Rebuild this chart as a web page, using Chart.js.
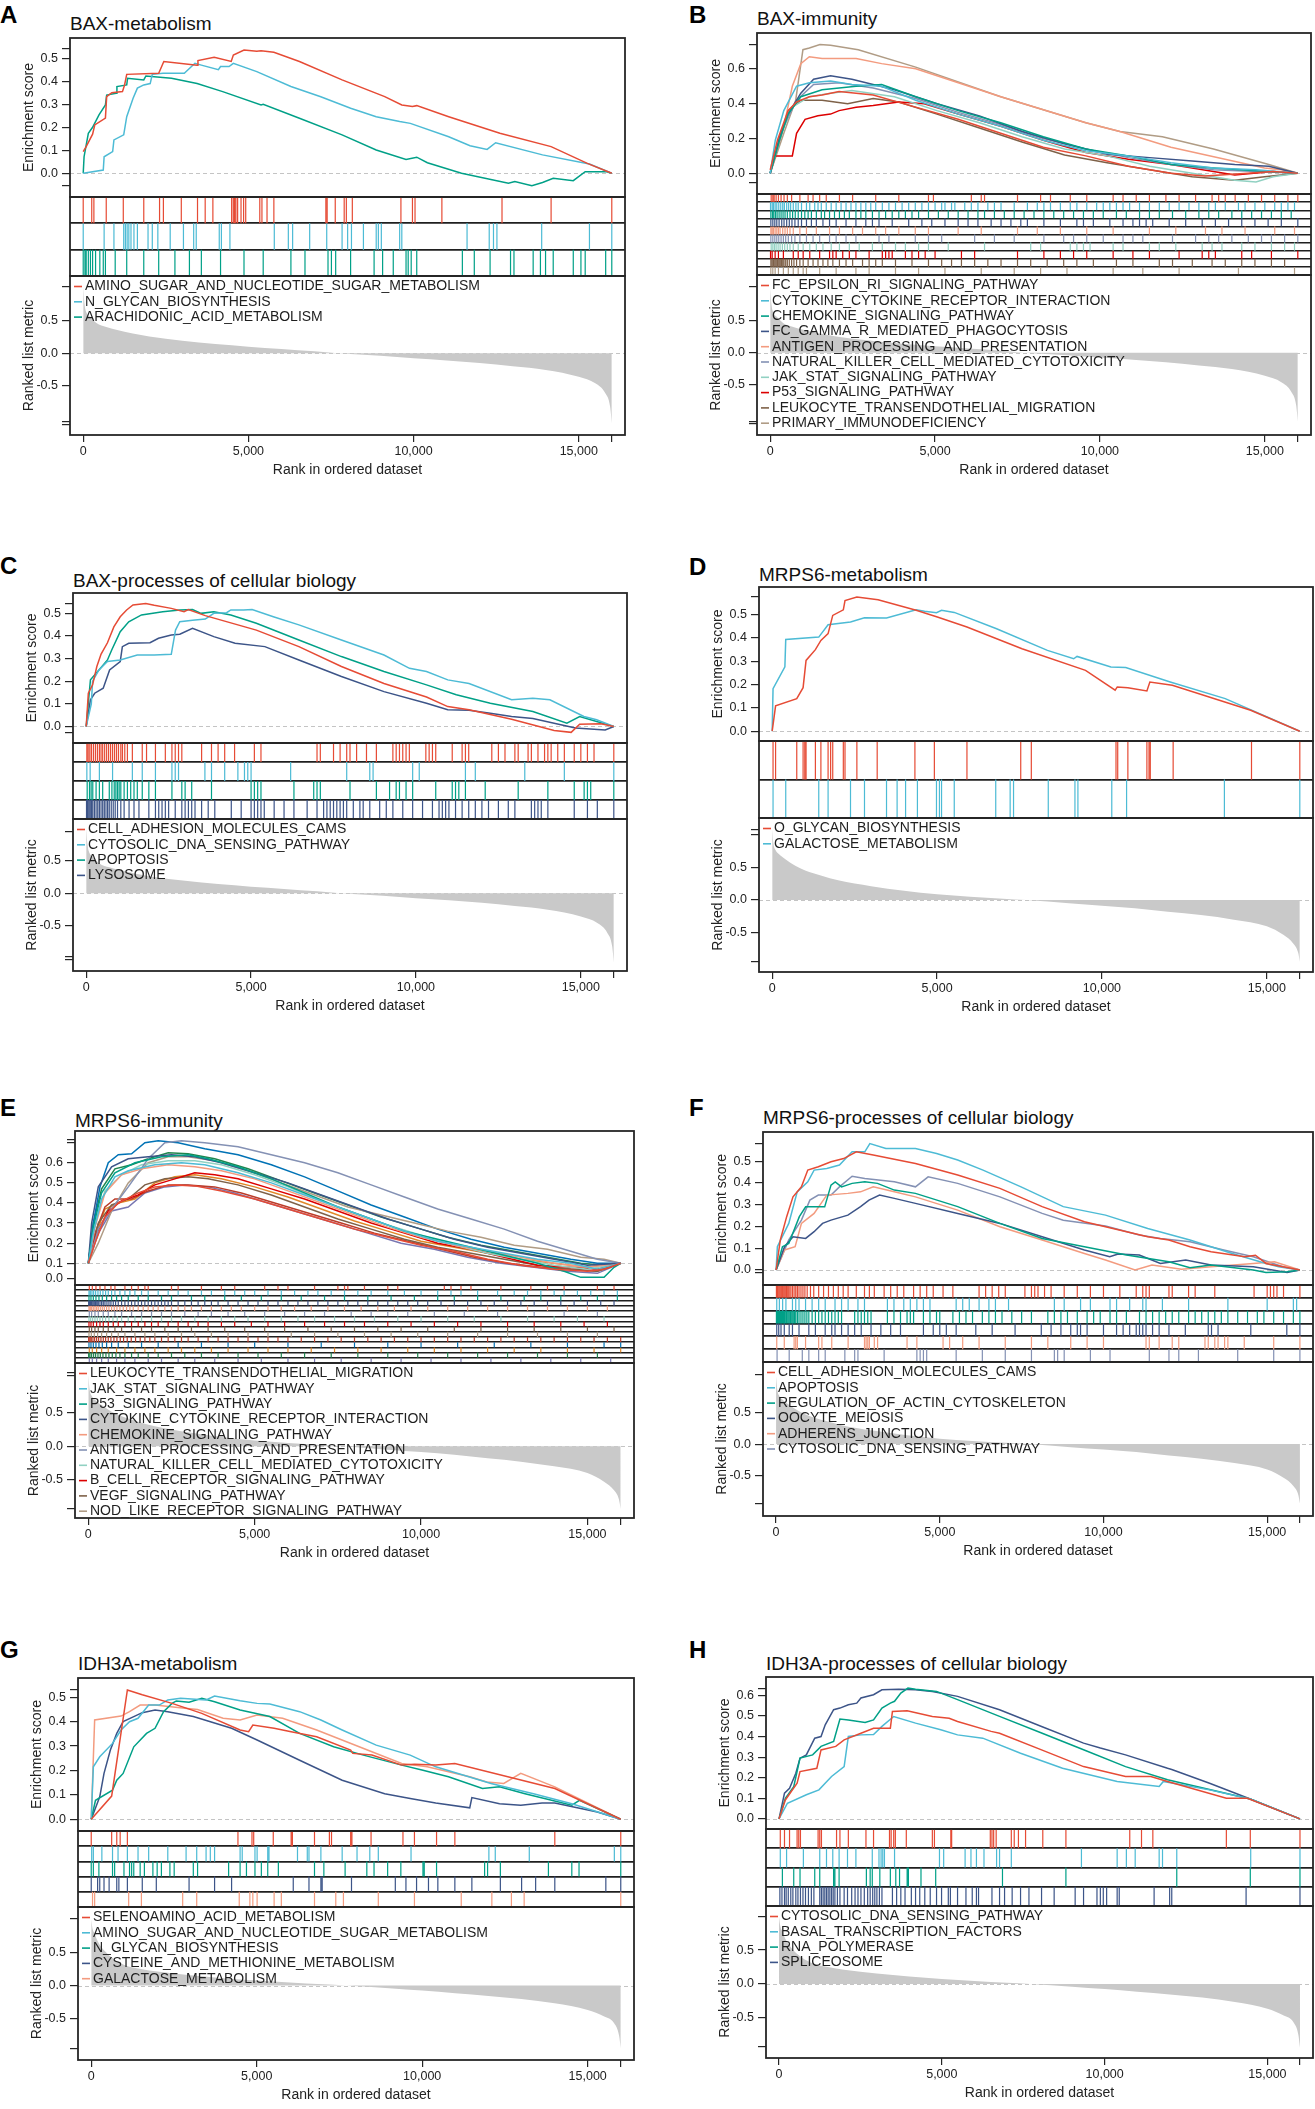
<!DOCTYPE html>
<html><head><meta charset="utf-8">
<script src="https://cdn.jsdelivr.net/npm/chart.js@4.4.1/dist/chart.umd.min.js"></script>
<style>
html,body{margin:0;padding:0;background:#fff;}
body{width:1315px;height:2109px;position:relative;overflow:hidden;font-family:"Liberation Sans",Arial,Helvetica,sans-serif;}
.letter{position:absolute;font-weight:bold;font-size:24px;line-height:1;color:#000;}
.ptitle{position:absolute;font-size:19px;line-height:1;color:#111;white-space:nowrap;}
canvas{position:absolute;}
</style></head><body>
<script>
// ---------------- shared axis values ----------------
const X_TICKS = [0, 5000, 10000, 15000, 16000];
const X_LABELS = ['0', '5,000', '10,000', '15,000', ''];
const RANKS = [0,40,100,200,400,700,1000,1500,2000,3000,4000,5000,6000,7000,7700,9000,10000,11000,12000,13000,14000,15000,15500,15800,15950,16000];
const BAX_METRIC   = [1.0,0.75,0.62,0.56,0.46,0.40,0.36,0.30,0.255,0.19,0.14,0.10,0.066,0.03,0.0,-0.04,-0.077,-0.11,-0.15,-0.2,-0.255,-0.36,-0.46,-0.61,-0.82,-1.07];
const MRPS6_METRIC = [1.07,0.85,0.76,0.70,0.62,0.52,0.45,0.37,0.30,0.21,0.14,0.086,0.05,0.02,0.0,-0.05,-0.086,-0.126,-0.18,-0.23,-0.30,-0.40,-0.53,-0.66,-0.80,-0.94];
const IDH3A_METRIC = [0.99,0.85,0.78,0.66,0.52,0.39,0.31,0.25,0.21,0.155,0.11,0.075,0.045,0.018,0.0,-0.04,-0.075,-0.115,-0.155,-0.2,-0.265,-0.365,-0.465,-0.565,-0.75,-0.94];

// ---------------- A: BAX-metabolism ----------------
const A_NAMES = ['AMINO_SUGAR_AND_NUCLEOTIDE_SUGAR_METABOLISM','N_GLYCAN_BIOSYNTHESIS','ARACHIDONIC_ACID_METABOLISM'];
const A_ES_1 = [[0,0.094],[90,0.116],[284,0.17],[349,0.21],[672,0.24],[710,0.333],[865,0.35],[1188,0.355],[1252,0.384],[1317,0.43],[2285,0.435],[2440,0.486],[3447,0.47],[3473,0.49],[3964,0.504],[4480,0.486],[4545,0.514],[4868,0.536],[5254,0.53],[5383,0.533],[5771,0.526],[6545,0.486],[7836,0.406],[9127,0.333],[9644,0.297],[9966,0.29],[10096,0.294],[11064,0.246],[12613,0.174],[14163,0.116],[15260,0.043],[16000,0]];
const A_ES_2 = [[0,0],[607,0.014],[633,0.072],[891,0.094],[930,0.145],[1226,0.167],[1317,0.246],[1510,0.326],[1640,0.37],[1833,0.384],[2027,0.39],[2091,0.43],[2414,0.435],[3060,0.435],[3382,0.478],[3576,0.47],[4092,0.45],[4157,0.464],[4415,0.464],[4544,0.478],[5254,0.442],[6287,0.377],[7191,0.333],[8095,0.283],[8869,0.246],[9579,0.225],[9902,0.217],[11064,0.159],[11709,0.12],[12226,0.104],[12484,0.133],[13904,0.08],[15324,0.04],[16000,0]];
const A_ES_3 = [[0,0],[26,0.072],[155,0.174],[284,0.2],[478,0.254],[672,0.297],[710,0.34],[994,0.348],[1020,0.377],[1317,0.384],[1343,0.413],[1833,0.406],[1898,0.423],[2672,0.413],[3447,0.39],[4222,0.355],[5383,0.297],[5448,0.3],[6545,0.239],[7836,0.167],[8869,0.101],[9772,0.06],[10096,0.07],[10418,0.046],[11451,0],[12871,-0.043],[13065,-0.036],[13581,-0.054],[13904,-0.04],[14227,-0.022],[14834,-0.032],[15195,0.007],[15841,0.007],[16000,0]];
const A_HIT_1 = [0,258,323,697,1213,1833,2311,2427,2969,3460,3692,3925,4493,4544,4583,4622,4674,4777,4855,4919,5345,5410,5564,5771,7345,7384,7629,7900,7965,8146,9617,9966,10044,10857,12677,14163,16000];
const A_HIT_2 = [0,633,930,1226,1278,1330,1381,1446,1536,1640,1962,2091,2259,2633,3034,3344,3421,4118,4183,4441,5784,6209,6339,6855,7371,7836,8004,8120,8482,8869,8934,9024,9579,9644,11619,12290,12419,12523,13878,15324,16000];
const A_HIT_3 = [0,52,90,155,219,284,374,503,607,672,968,1317,1833,2285,2776,3215,3576,4157,4867,5448,6287,6713,7410,7513,7642,8094,8805,9063,9385,9772,9837,9928,10096,11477,11838,12316,12935,13039,13620,13840,13995,14227,14834,15066,15195,15815,16000];
const A_ES_TICKS = [-0.054,0,0.1,0.2,0.3,0.4,0.5,0.54];
const A_ES_LABELS = ['','0.0','0.1','0.2','0.3','0.4','0.5',''];
const A_RK_TICKS = [-1.087,-1.05,-0.5,0,0.5,1.015];

// ---------------- B: BAX-immunity ----------------
const B_NAMES = ['FC_EPSILON_RI_SIGNALING_PATHWAY','CYTOKINE_CYTOKINE_RECEPTOR_INTERACTION','CHEMOKINE_SIGNALING_PATHWAY','FC_GAMMA_R_MEDIATED_PHAGOCYTOSIS','ANTIGEN_PROCESSING_AND_PRESENTATION','NATURAL_KILLER_CELL_MEDIATED_CYTOTOXICITY','JAK_STAT_SIGNALING_PATHWAY','P53_SIGNALING_PATHWAY','LEUKOCYTE_TRANSENDOTHELIAL_MIGRATION','PRIMARY_IMMUNODEFICIENCY'];
const B_ES_1 = [[0,0.02],[219,0.19],[542,0.36],[800,0.41],[1187,0.44],[1574,0.45],[2090,0.47],[3122,0.45],[4412,0.38],[5702,0.31],[6992,0.23],[8282,0.15],[9572,0.1],[10862,0.04],[12152,0],[13184,-0.015],[14474,0],[15248,0.01],[16000,0]];
const B_ES_2 = [[0,0],[155,0.19],[413,0.36],[800,0.5],[1187,0.52],[1832,0.53],[2477,0.51],[3380,0.5],[4412,0.42],[5702,0.34],[6992,0.27],[8282,0.19],[9572,0.13],[10862,0.1],[12152,0.06],[13442,0.03],[14732,0.02],[16000,0]];
const B_ES_3 = [[0,0],[284,0.19],[542,0.34],[929,0.44],[1574,0.48],[2606,0.5],[3380,0.51],[4412,0.44],[5702,0.36],[6992,0.29],[8282,0.21],[9572,0.14],[10862,0.1],[12152,0.05],[13442,0.03],[14732,0.015],[16000,0]];
const B_ES_4 = [[0,0],[284,0.21],[542,0.34],[929,0.46],[1316,0.54],[1832,0.56],[2477,0.54],[3767,0.48],[5057,0.4],[6347,0.33],[7637,0.24],[8927,0.17],[10217,0.11],[11507,0.09],[12797,0.07],[14087,0.05],[15119,0.04],[16000,0]];
const B_ES_5 = [[0,0],[413,0.27],[671,0.5],[929,0.63],[1187,0.67],[1574,0.66],[2606,0.66],[3380,0.63],[4412,0.6],[6992,0.44],[9572,0.29],[10604,0.24],[12152,0.15],[14990,0.03],[15506,0.02],[16000,0]];
const B_ES_6 = [[0,0],[413,0.27],[800,0.42],[1316,0.51],[2090,0.52],[3122,0.49],[4412,0.43],[5702,0.35],[6992,0.28],[8282,0.2],[9572,0.14],[10862,0.09],[12152,0.05],[13442,0.02],[14732,0.01],[16000,0]];
const B_ES_7 = [[0,0],[348,0.23],[671,0.38],[1187,0.44],[1832,0.46],[2477,0.475],[3767,0.44],[5057,0.36],[6347,0.29],[7637,0.21],[8927,0.14],[10217,0.1],[11507,0.04],[12797,0],[14087,-0.04],[14732,-0.05],[15248,-0.02],[16000,0]];
const B_ES_8 = [[0,0],[155,0.1],[671,0.1],[800,0.23],[1058,0.31],[1445,0.33],[1832,0.34],[2090,0.36],[2606,0.38],[3122,0.39],[3896,0.41],[4670,0.4],[5702,0.34],[6992,0.27],[8282,0.19],[9572,0.12],[10862,0.08],[12152,0.05],[13442,0.01],[14087,-0.01],[15248,0.01],[16000,0]];
const B_ES_9 = [[0,0],[284,0.19],[542,0.36],[929,0.42],[1574,0.42],[2348,0.4],[3122,0.43],[3896,0.41],[5057,0.34],[6347,0.26],[7637,0.18],[8927,0.105],[10217,0.06],[11507,0.02],[12797,-0.02],[14087,-0.04],[14990,-0.02],[16000,0]];
const B_ES_10 = [[0,0],[413,0.23],[774,0.42],[993,0.71],[1187,0.72],[1509,0.74],[1832,0.735],[2670,0.71],[4412,0.61],[6992,0.44],[9572,0.29],[10604,0.24],[11894,0.21],[13442,0.14],[15119,0.05],[16000,0]];
const B_HIT_1 = [30,80,120,180,250,330,420,520,650,900,1150,1300,1500,1700,2100,2500,3200,3900,4800,4950,6100,6400,6500,7500,8200,8500,9100,9600,10400,10700,11100,11500,12000,12400,12900,13400,13600,13800,14100,14500,14900,15300,15700,16000];
const B_HIT_2 = [10,60,100,150,200,260,320,380,430,500,560,620,700,780,850,950,1100,1200,1350,1450,1550,1700,1850,2000,2150,2300,2450,2600,2750,2900,3050,3200,3400,3600,3800,4000,4200,4400,4600,4800,5000,5200,5300,5500,5600,5900,6100,6300,6600,6800,7000,7400,7800,8100,8300,8500,8800,9100,9300,9600,9900,10100,10300,10500,10700,10900,11200,11500,11800,12100,12400,12700,13000,13300,13500,13800,14200,14400,14700,15000,15300,15500,15700,15900];
const B_HIT_3 = [20,70,110,160,210,270,330,390,450,520,600,680,760,850,950,1050,1150,1250,1400,1550,1650,1800,1950,2100,2250,2400,2600,2750,2900,3100,3300,3500,3700,3900,4100,4300,4500,4800,5100,5400,5700,6000,6300,6500,6800,7100,7400,7700,8000,8300,8600,8900,9200,9500,9800,10100,10500,10800,11200,11500,11800,12200,12600,13000,13300,13600,14000,14300,14600,14900,15200,15500,15800];
const B_HIT_4 = [20,80,140,200,270,350,420,500,580,660,750,850,950,1100,1250,1400,1600,1800,2000,2300,2600,2900,3100,3300,3700,4200,4600,4900,5300,5700,6000,6300,6700,7000,7300,7600,7800,8300,8800,9300,9500,9800,10300,10700,11000,11200,11400,11600,12100,12600,13100,13500,13900,14300,14700,15100,15500,16000];
const B_HIT_5 = [20,60,100,150,200,250,300,380,450,520,600,700,900,1100,1400,1800,2100,2500,2800,3200,3500,3900,4400,4800,5700,6400,7500,8100,8800,9600,10400,11500,12300,13200,13700,14400,15300,15900];
const B_HIT_6 = [20,80,140,200,260,330,400,470,550,650,750,900,1100,1300,1500,1800,2000,2300,2600,3300,3600,4400,4800,5200,6200,6800,7400,8300,8900,9200,9600,10100,10700,11000,11300,12200,12900,13300,13600,14000,14500,14900,15200,15600,16000];
const B_HIT_7 = [30,80,130,180,240,300,370,440,520,600,700,850,1000,1200,1400,1600,1850,2100,2400,2700,3100,3400,3800,4100,4500,4800,5400,6500,7900,8200,9100,9300,9500,9700,10400,10700,11500,11800,12300,13100,13400,13700,14300,14700,15200,15600,15900];
const B_HIT_8 = [10,60,150,250,400,700,850,1000,1200,1500,1800,1900,2000,2200,2400,2600,3000,3400,3500,3600,3700,4100,4300,4500,4700,5000,5800,6200,7500,8300,8800,9200,9600,10400,11000,11500,12400,13100,13300,13500,14300,14600,15200,16000];
const B_HIT_9 = [20,60,100,140,180,220,260,300,340,380,420,470,520,580,650,720,800,900,1000,1150,1300,1450,1600,1750,1900,2100,2300,2500,2800,3000,3200,3400,3800,4300,4800,5200,5500,5800,6200,6600,7000,7500,7900,8400,8900,9300,9800,10500,11000,11800,12200,12800,13400,13800,14300,14700,15200,15600];
const B_HIT_10 = [20,80,150,250,400,550,700,850,1000,1100,1500,2000,2600,3000,3800,4500,5300,6400,7400,8200,9000,10400,11300,12400,14200,15900];
const B_ES_TICKS = [-0.052,0,0.2,0.4,0.6,0.741];
const B_ES_LABELS = ['','0.0','0.2','0.4','0.6',''];
const B_RK_TICKS = [-1.11,-1.08,-0.5,0,0.5,1.04];

// ---------------- C: BAX-processes of cellular biology ----------------
const C_NAMES = ['CELL_ADHESION_MOLECULES_CAMS','CYTOSOLIC_DNA_SENSING_PATHWAY','APOPTOSIS','LYSOSOME'];
const C_ES_1 = [[0,0],[65,0.147],[194,0.184],[323,0.265],[452,0.32],[645,0.37],[839,0.44],[1032,0.485],[1226,0.515],[1419,0.537],[1806,0.544],[2064,0.536],[2580,0.522],[2967,0.507],[3096,0.517],[3612,0.49],[5160,0.426],[6450,0.353],[7740,0.265],[9030,0.19],[9675,0.16],[10320,0.13],[10965,0.088],[11610,0.074],[12900,0.032],[14190,-0.018],[14706,-0.026],[14964,0.01],[15609,0.012],[16000,0]];
const C_ES_2 = [[0,0],[155,0.1],[194,0.2],[387,0.25],[645,0.287],[1032,0.294],[1548,0.316],[2064,0.316],[2580,0.319],[2709,0.426],[2838,0.463],[3225,0.47],[3612,0.475],[3870,0.5],[4257,0.503],[4386,0.515],[4773,0.515],[5031,0.517],[5676,0.485],[6450,0.449],[7740,0.382],[9030,0.316],[9804,0.257],[10320,0.243],[10965,0.206],[11610,0.19],[12900,0.118],[13545,0.125],[14061,0.118],[15093,0.044],[15480,0.03],[16000,0]];
const C_ES_3 = [[0,0],[129,0.206],[387,0.25],[645,0.294],[774,0.338],[1032,0.419],[1290,0.463],[1677,0.493],[2322,0.507],[2838,0.515],[3225,0.517],[3483,0.5],[3870,0.507],[4386,0.493],[5160,0.456],[6450,0.382],[7740,0.309],[9030,0.243],[10320,0.184],[11223,0.14],[12255,0.103],[13545,0.066],[14577,0.015],[14964,0.044],[16000,0]];
const C_ES_4 = [[0,0],[129,0.118],[258,0.147],[516,0.169],[710,0.25],[1032,0.287],[1097,0.353],[1290,0.368],[1935,0.37],[2193,0.39],[2580,0.404],[2838,0.408],[3225,0.434],[3870,0.397],[4515,0.368],[5418,0.353],[6450,0.294],[7740,0.221],[9030,0.154],[10320,0.103],[10965,0.074],[11610,0.072],[12255,0.059],[12900,0.044],[13545,0.035],[14835,-0.007],[15738,-0.015],[16000,0]];
const C_HIT_1 = [20,60,110,160,220,280,340,400,450,500,560,620,680,740,800,860,920,980,1050,1100,1170,1250,1400,1700,1830,2100,2400,2600,2700,2800,2900,3500,3800,4000,4200,4500,5100,5300,7000,7100,7500,7700,7900,8000,8200,8500,8800,9300,9400,9500,9600,9700,9800,10300,10400,10500,10600,11100,11400,11500,11600,12300,12500,12700,13000,13100,13400,13500,13700,13900,14000,14100,14300,14500,14800,15000,15200,15400,16000];
const C_HIT_2 = [20,120,400,800,1400,1700,2100,2600,2700,2800,3600,3800,4200,4600,4800,4900,5000,6200,7900,8600,8700,9900,10100,11500,11800,13300,14500,16000];
const C_HIT_3 = [30,100,150,200,300,400,500,700,780,850,900,950,1000,1050,1150,1250,1350,1450,1550,1700,1900,2100,2600,2900,3000,3200,3800,5000,5100,5200,5300,6300,6900,7000,7100,8000,8800,9200,9400,9500,9700,9900,10600,11100,11200,11300,11500,12100,13100,14000,14800,15100,15200,15300,16000];
const C_HIT_4 = [10,40,80,120,160,200,250,300,350,400,450,500,550,600,650,700,760,820,880,950,1050,1150,1300,1450,1600,1900,2100,2200,2300,2400,2500,2700,2900,3000,3100,3200,3300,3500,3700,3900,4400,4700,5000,5100,5200,5300,5400,5700,6000,6300,6700,7000,7200,7300,7400,7500,7600,7700,7800,7900,8100,8300,8400,8600,8900,9100,9300,9600,9900,10200,10500,10700,10800,10900,11000,11200,11400,11600,11800,12000,12200,12500,12800,13000,13500,13600,13700,13800,14000,14800,15200,15500,16000];
const C_ES_TICKS = [-0.025,0,0.1,0.2,0.3,0.4,0.5,0.543];
const C_ES_LABELS = ['','0.0','0.1','0.2','0.3','0.4','0.5',''];
const C_RK_TICKS = [-1.02,-0.98,-0.5,0,0.5,0.954];

// ---------------- D: MRPS6-metabolism ----------------
const D_NAMES = ['O_GLYCAN_BIOSYNTHESIS','GALACTOSE_METABOLISM'];
const D_ES_1 = [[0,0],[103,0.109],[745,0.14],[937,0.187],[1027,0.304],[1310,0.35],[1477,0.39],[1695,0.419],[1836,0.497],[2157,0.521],[2208,0.561],[2568,0.576],[3210,0.564],[4366,0.519],[5008,0.49],[5906,0.447],[7576,0.354],[9502,0.261],[10400,0.176],[10465,0.19],[10786,0.187],[11363,0.173],[11453,0.211],[12134,0.197],[14509,0.09],[16000,0]];
const D_ES_2 = [[0,0],[26,0.183],[385,0.276],[411,0.394],[1412,0.404],[1695,0.457],[2375,0.469],[2799,0.487],[3467,0.486],[4366,0.521],[4622,0.515],[4982,0.509],[5136,0.519],[5521,0.51],[6805,0.44],[8346,0.347],[9142,0.311],[9245,0.321],[10272,0.276],[10721,0.273],[12070,0.211],[13739,0.14],[16000,0]];
const D_HIT_1 = [26,103,745,937,988,1027,1310,1477,1695,1772,1836,2157,2208,2568,3184,4328,4918,5906,7537,7858,10426,10478,10786,11363,11427,11466,12159,14535,16000];
const D_HIT_2 = [26,411,1412,1695,2375,2799,3467,3788,4045,4404,4982,5072,5136,5521,6779,7216,7319,8372,9181,9271,10298,10747,13713,16000];
const D_ES_TICKS = [0,0.1,0.2,0.3,0.4,0.5,0.576];
const D_ES_LABELS = ['0.0','0.1','0.2','0.3','0.4','0.5',''];
const D_RK_TICKS = [-0.94,-0.5,0,0.5,0.99,1.07];

// ---------------- E: MRPS6-immunity ----------------
const E_NAMES = ['LEUKOCYTE_TRANSENDOTHELIAL_MIGRATION','JAK_STAT_SIGNALING_PATHWAY','P53_SIGNALING_PATHWAY','CYTOKINE_CYTOKINE_RECEPTOR_INTERACTION','CHEMOKINE_SIGNALING_PATHWAY','ANTIGEN_PROCESSING_AND_PRESENTATION','NATURAL_KILLER_CELL_MEDIATED_CYTOTOXICITY','B_CELL_RECEPTOR_SIGNALING_PATHWAY','VEGF_SIGNALING_PATHWAY','NOD_LIKE_RECEPTOR_SIGNALING_PATHWAY'];
const E_ES_1 = [[0,0.1],[200,0.2],[500,0.33],[900,0.4],[1500,0.45],[2000,0.48],[2600,0.49],[3200,0.485],[4000,0.46],[5000,0.42],[6000,0.37],[7000,0.32],[8000,0.27],[9000,0.23],[10000,0.19],[11000,0.16],[12000,0.12],[13000,0.09],[14000,0.07],[15000,0.06],[15500,0.07],[16000,0.1]];
const E_ES_2 = [[0,0.1],[150,0.25],[400,0.42],[800,0.53],[1200,0.56],[2000,0.59],[2800,0.6],[3500,0.59],[4500,0.55],[5500,0.5],[6500,0.44],[7500,0.38],[8500,0.32],[9500,0.26],[10500,0.21],[11500,0.18],[12500,0.15],[13500,0.12],[14500,0.1],[15300,0.07],[16000,0.1]];
const E_ES_3 = [[0,0.1],[150,0.28],[400,0.45],[800,0.55],[1400,0.6],[2200,0.63],[3000,0.64],[3600,0.62],[4500,0.58],[5500,0.52],[6500,0.45],[7500,0.38],[8500,0.32],[9500,0.26],[10500,0.22],[11500,0.18],[12500,0.14],[13500,0.1],[14300,0.06],[14800,0.03],[15500,0.03],[15800,0.08],[16000,0.1]];
const E_ES_4 = [[0,0.1],[100,0.3],[300,0.48],[700,0.58],[1200,0.62],[1800,0.63],[2500,0.64],[3200,0.63],[4000,0.6],[5000,0.55],[6000,0.5],[7000,0.44],[8000,0.38],[9000,0.32],[10000,0.27],[11000,0.22],[12000,0.18],[13000,0.15],[14000,0.12],[15000,0.09],[16000,0.1]];
const E_ES_5 = [[0,0.1],[200,0.28],[500,0.45],[1000,0.54],[1600,0.57],[2400,0.59],[3200,0.58],[4000,0.56],[5000,0.52],[6000,0.46],[7000,0.4],[8000,0.34],[9000,0.28],[10000,0.23],[11000,0.19],[12000,0.16],[13000,0.13],[14000,0.1],[15000,0.08],[16000,0.1]];
const E_ES_6 = [[0,0.1],[300,0.27],[700,0.37],[1200,0.48],[1800,0.62],[2300,0.7],[2800,0.71],[3500,0.7],[4500,0.68],[5500,0.64],[6500,0.6],[7500,0.55],[8500,0.49],[9500,0.43],[10500,0.37],[11500,0.32],[12500,0.27],[13500,0.21],[14500,0.16],[15300,0.12],[16000,0.1]];
const E_ES_7 = [[0,0.1],[200,0.3],[500,0.46],[1000,0.54],[1600,0.59],[2400,0.61],[3200,0.61],[4000,0.59],[5000,0.54],[6000,0.48],[7000,0.41],[8000,0.35],[9000,0.29],[10000,0.24],[11000,0.19],[12000,0.15],[13000,0.12],[14000,0.09],[15000,0.07],[16000,0.1]];
const E_ES_8 = [[0,0.1],[250,0.25],[600,0.36],[1000,0.41],[1500,0.44],[2000,0.49],[2600,0.52],[3200,0.55],[3800,0.54],[4500,0.52],[5500,0.47],[6500,0.42],[7500,0.36],[8500,0.3],[9500,0.25],[10500,0.2],[11500,0.17],[12500,0.13],[13500,0.09],[14500,0.08],[15300,0.07],[16000,0.1]];
const E_ES_9 = [[0,0.1],[300,0.3],[700,0.39],[1200,0.42],[1700,0.49],[2300,0.52],[3000,0.53],[3600,0.52],[4500,0.49],[5500,0.44],[6500,0.38],[7500,0.32],[8500,0.27],[9500,0.22],[10500,0.18],[11500,0.15],[12500,0.12],[13500,0.09],[14500,0.07],[15300,0.06],[16000,0.1]];
const E_ES_10 = [[0,0.1],[300,0.2],[700,0.36],[1200,0.5],[1800,0.6],[2400,0.63],[3000,0.63],[3800,0.61],[4800,0.56],[5800,0.5],[6800,0.44],[7800,0.38],[8800,0.34],[9800,0.3],[10800,0.26],[11800,0.23],[12800,0.19],[13800,0.17],[14800,0.13],[15500,0.12],[16000,0.1]];
const E_ES_11 = [[0,0.1],[200,0.25],[500,0.38],[800,0.42],[1300,0.42],[1800,0.46],[2400,0.49],[3000,0.49],[3800,0.48],[4600,0.45],[5600,0.4],[6600,0.35],[7600,0.3],[8600,0.25],[9600,0.21],[10600,0.17],[11600,0.13],[12600,0.1],[13600,0.08],[14600,0.07],[15300,0.06],[16000,0.1]];
const E_ES_12 = [[0,0.1],[150,0.3],[350,0.48],[600,0.6],[900,0.64],[1300,0.645],[1700,0.7],[2100,0.71],[2700,0.7],[3500,0.67],[4500,0.64],[5500,0.59],[6500,0.53],[7500,0.46],[8500,0.39],[9500,0.33],[10500,0.27],[11500,0.22],[12500,0.18],[13500,0.15],[14500,0.12],[15300,0.1],[16000,0.1]];
const E_ES_13 = [[0,0.1],[250,0.25],[500,0.37],[900,0.4],[1400,0.42],[2000,0.5],[2600,0.53],[3200,0.54],[4000,0.52],[5000,0.48],[6000,0.43],[7000,0.37],[8000,0.31],[9000,0.26],[10000,0.21],[11000,0.18],[12000,0.15],[13000,0.12],[14000,0.1],[15000,0.08],[15800,0.1],[16000,0.1]];
const E_ES_14 = [[0,0.1],[150,0.3],[400,0.47],[800,0.57],[1300,0.59],[1800,0.62],[2400,0.65],[3000,0.645],[3800,0.62],[4800,0.57],[5800,0.51],[6800,0.45],[7800,0.39],[8800,0.33],[9800,0.28],[10800,0.23],[11800,0.19],[12800,0.16],[13800,0.13],[14800,0.1],[15500,0.09],[16000,0.1]];
const E_ES_15 = [[0,0.1],[300,0.25],[700,0.36],[1200,0.38],[1700,0.45],[2300,0.48],[2900,0.49],[3600,0.48],[4400,0.45],[5400,0.4],[6400,0.35],[7400,0.3],[8400,0.25],[9400,0.2],[10400,0.17],[11400,0.13],[12400,0.1],[13400,0.08],[14400,0.06],[15300,0.05],[16000,0.1]];
const E_HIT_1 = [30,120,230,350,500,680,800,1100,1300,1500,1700,1800,2500,2700,3400,4000,4400,5300,5700,6000,6800,7500,7700,7800,8300,9000,9300,10700,10900,11200,11500,12400,13300,13800,14300,15300,15800];
const E_HIT_2 = [20,60,110,160,220,290,360,440,520,600,700,800,950,1100,1250,1400,1600,1800,2100,2400,2700,3000,3400,3700,4100,4400,4700,5000,5400,5800,6200,6600,6900,7300,7700,8100,8500,9000,9500,10000,10500,10900,11200,11700,12300,12800,13200,13600,14000,14300,14700,15100,15500,15900];
const E_HIT_3 = [20,80,150,230,320,420,550,700,850,1000,1200,1500,1800,2200,2500,3100,3500,4100,4600,5200,5800,6400,7100,7700,8400,9100,9800,10500,11000,11700,12400,13100,13600,14200,14800,15300,15900];
const E_HIT_4 = [10,40,70,100,140,180,220,260,300,350,400,450,500,560,620,680,750,820,900,1000,1100,1200,1300,1400,1500,1600,1700,1800,1900,2000,2100,2200,2300,2400,2500,2700,2900,3100,3300,3500,3700,3900,4200,4500,4800,5100,5400,5700,6000,6300,6600,6900,7200,7500,7800,8100,8400,8700,9000,9300,9600,9900,10200,10600,11000,11400,11800,12200,12600,13000,13400,13800,14200,14600,15000,15400,15800];
const E_HIT_5 = [20,60,100,150,200,250,300,360,420,480,550,620,700,780,860,950,1050,1150,1250,1350,1500,1650,1800,1950,2100,2300,2500,2700,2900,3100,3400,3700,4000,4300,4600,5000,5400,5800,6200,6700,7200,7700,8200,8700,9200,9700,10200,10800,11400,12000,12600,13200,13800,14400,15000,15600];
const E_HIT_6 = [30,100,200,300,450,600,800,1000,1300,1600,1900,2200,2500,2900,3300,3700,4200,4700,5300,5900,6500,7100,7900,8500,9000,9600,10400,11300,12300,13400,14300,15300];
const E_HIT_7 = [20,70,130,200,270,350,430,520,620,740,870,1000,1200,1400,1600,1900,2200,2500,2800,3200,3600,4000,4400,4800,5300,5800,6300,6800,7400,8000,8600,9300,10000,10800,11600,12400,13200,14000,14700,15500];
const E_HIT_8 = [20,80,150,250,350,450,600,750,900,1100,1300,1500,1700,1900,2100,2400,2700,3000,3300,3600,4000,4400,4900,5400,5900,6500,7100,7700,8300,9000,9700,10400,11100,11800,12600,13400,14200,14900,15600];
const E_HIT_9 = [30,100,200,300,450,600,800,1000,1300,1600,1900,2300,2700,3100,3600,4100,4700,5300,5900,6600,7300,8000,8700,9400,10200,11000,11800,12600,13400,14200,15000,15800];
const E_HIT_10 = [20,90,180,280,400,550,700,900,1100,1400,1700,2000,2400,2800,3200,3700,4200,4800,5400,6100,6800,7500,8300,9100,9900,10800,11700,12600,13500,14400,15300];
const E_HIT_11 = [10,50,90,140,190,250,310,380,450,520,600,680,770,860,960,1060,1170,1290,1420,1560,1700,1850,2000,2200,2400,2600,2800,3000,3300,3600,3900,4200,4500,4800,5100,5400,5700,6000,6400,6800,7200,7600,8000,8400,8800,9200,9600,10000,10400,10800,11200,11600,12000,12400,12800,13200,13600,14000,14400,14800,15200,15600,16000];
const E_HIT_12 = [20,80,150,230,320,420,550,700,900,1200,1600,2100,2700,3400,4200,5000,6000,7000,8000,9000,10000,11100,12200,13300,14400,15500,16000];
const E_HIT_13 = [30,120,250,400,600,850,1100,1400,1700,2000,2400,2800,3200,3700,4200,4800,5400,6000,6700,7400,8100,8800,9600,10400,11200,12000,12800,13600,14400,15200,16000];
const E_HIT_14 = [10,50,100,160,220,290,360,440,530,620,720,830,950,1100,1300,1500,1800,2100,2500,2900,3400,3900,4500,5100,5800,6500,7300,8100,9000,9900,10800,11700,12600,13500,14400,15300];
const E_HIT_15 = [30,120,250,400,600,850,1100,1400,1800,2200,2700,3200,3800,4500,5200,6000,6800,7600,8500,9400,10300,11200,12100,13000,13900,14800,15700];
const E_ES_TICKS = [0.025,0.1,0.2,0.3,0.4,0.5,0.6,0.70,0.717];
const E_ES_LABELS = ['0.0','0.1','0.2','0.3','0.4','0.5','0.6','',''];
const E_RK_TICKS = [-0.94,-0.5,0,0.5,1.06,1.11];

// ---------------- F: MRPS6-processes of cellular biology ----------------
const F_NAMES = ['CELL_ADHESION_MOLECULES_CAMS','APOPTOSIS','REGULATION_OF_ACTIN_CYTOSKELETON','OOCYTE_MEIOSIS','ADHERENS_JUNCTION','CYTOSOLIC_DNA_SENSING_PATHWAY'];
const F_ES_1 = [[0,0],[129,0.138],[323,0.245],[516,0.336],[774,0.382],[968,0.459],[1290,0.474],[1677,0.497],[2064,0.512],[2451,0.543],[2967,0.528],[4257,0.489],[5547,0.436],[6837,0.375],[8127,0.291],[9417,0.222],[10707,0.176],[11352,0.153],[11997,0.138],[12642,0.107],[13287,0.084],[14319,0.061],[14642,0.068],[14964,0.03],[16000,0]];
const F_ES_2 = [[0,0],[39,0.107],[387,0.214],[645,0.359],[968,0.405],[1161,0.459],[1548,0.466],[1935,0.482],[2322,0.543],[2709,0.543],[2864,0.581],[3354,0.558],[4257,0.558],[4902,0.535],[5547,0.505],[6321,0.459],[7482,0.382],[8772,0.291],[10062,0.252],[11352,0.191],[12642,0.138],[13932,0.076],[14964,0.03],[15351,0.015],[16000,0]];
const F_ES_3 = [[0,0],[194,0.107],[387,0.122],[710,0.245],[903,0.29],[1484,0.29],[1677,0.39],[1806,0.405],[2000,0.382],[2322,0.398],[2709,0.405],[3096,0.398],[3612,0.367],[4257,0.352],[5547,0.291],[6837,0.214],[8127,0.145],[9417,0.107],[10707,0.069],[11997,0.038],[12642,0.01],[13287,0.023],[14577,0],[14964,-0.012],[15609,-0.008],[16000,0]];
const F_ES_4 = [[0,0],[258,0.107],[516,0.153],[903,0.145],[1161,0.176],[1419,0.214],[1677,0.229],[2193,0.252],[2580,0.291],[2838,0.321],[3161,0.344],[3612,0.329],[4257,0.306],[5547,0.26],[6837,0.214],[8127,0.153],[9417,0.092],[10191,0.061],[10449,0.073],[11094,0.069],[11739,0.03],[12513,0.046],[13287,0.023],[14577,0.015],[15609,-0.012],[16000,0]];
const F_ES_5 = [[0,0],[258,0.092],[581,0.107],[774,0.214],[1161,0.26],[1548,0.344],[2193,0.352],[2580,0.359],[2967,0.382],[3612,0.359],[4257,0.336],[5547,0.275],[6837,0.199],[8127,0.138],[9417,0.076],[10062,0.046],[10965,0],[11481,0.023],[12384,0.003],[13287,0.015],[14577,0.03],[15222,0.038],[16000,0]];
const F_ES_6 = [[0,0],[387,0.138],[774,0.229],[1032,0.321],[1290,0.344],[1677,0.344],[1935,0.382],[2322,0.431],[2709,0.42],[3612,0.405],[4257,0.382],[4644,0.428],[5547,0.398],[6837,0.336],[8127,0.26],[8772,0.229],[10062,0.202],[11094,0.161],[11739,0.145],[12642,0.13],[13674,0.092],[14577,0.061],[15480,0.015],[16000,0]];
const F_HIT_1 = [10,40,80,120,160,200,240,280,320,360,400,450,500,550,600,650,700,760,820,880,950,1050,1150,1300,1450,1600,1750,1900,2050,2200,2450,2700,2850,3000,3300,3500,3700,3900,4200,4400,4600,4800,5100,5400,6200,6400,6600,6800,7000,7600,7800,7900,8000,8200,8400,8800,9200,9600,10000,10500,11000,11200,11300,11400,12000,12100,12600,12800,13400,14600,15000,15100,15200,15300,15500,16000];
const F_HIT_2 = [20,100,200,300,500,600,700,900,1100,1300,1500,1800,2000,2200,2500,2700,3400,3600,3900,4100,4300,4500,4700,5500,5700,5900,6200,6500,6700,7100,8500,8800,9300,9600,10200,10400,10800,11200,11300,11800,12600,13800,15000,15800,15900];
const F_HIT_3 = [10,40,70,100,130,160,190,220,250,280,320,360,400,440,480,520,560,600,650,700,760,820,880,940,1000,1100,1200,1300,1400,1500,1600,1700,1800,1900,2000,2400,2500,2600,2700,2800,2900,3400,3600,3800,4000,4100,4200,4500,4700,4900,5000,5400,5600,5800,6000,6300,6500,6700,6900,7200,7500,7800,8300,8500,8700,8900,9200,9500,9700,9900,10200,10400,10700,11100,11300,11500,11700,11900,12100,12300,12600,12800,13000,13200,13400,13600,13800,14100,14400,14700,14900,15200,15500,15800,16000];
const F_HIT_4 = [20,80,150,250,400,500,700,1000,1200,1500,1700,1800,2000,2200,2400,2600,2900,3200,3500,3800,4500,4800,5000,5200,5500,6100,6600,7300,8100,8400,8700,9000,9200,9300,9500,10000,10400,10600,10800,11000,11100,11200,11300,11500,11700,12000,12500,13200,13300,13500,14500,15600,16000];
const F_HIT_5 = [20,250,550,600,650,900,1300,1400,1700,2200,2700,2750,2800,2850,3000,3100,4000,4300,5100,5300,5700,6200,7000,7800,8300,9000,9500,10000,11300,11400,11700,12100,12300,13100,13200,13400,13500,13700,13800,14300,15200,16000];
const F_HIT_6 = [30,400,800,1000,1300,1500,2100,2400,2500,3300,4300,4400,4500,4600,5500,6300,7000,7800,8500,8600,8800,9600,10200,11400,12000,12300,12900,14100,15200,16000];
const F_ES_TICKS = [-0.012,0,0.1,0.2,0.3,0.4,0.5,0.582];
const F_ES_LABELS = ['','0.0','0.1','0.2','0.3','0.4','0.5',''];
const F_RK_TICKS = [-0.94,-0.5,0,0.5,1.1];

// ---------------- G: IDH3A-metabolism ----------------
const G_NAMES = ['SELENOAMINO_ACID_METABOLISM','AMINO_SUGAR_AND_NUCLEOTIDE_SUGAR_METABOLISM','N_GLYCAN_BIOSYNTHESIS','CYSTEINE_AND_METHIONINE_METABOLISM','GALACTOSE_METABOLISM'];
const G_ES_1 = [[0,0],[617,0.095],[1092,0.53],[1542,0.51],[2442,0.475],[3341,0.434],[4498,0.366],[4755,0.359],[4883,0.386],[5526,0.373],[6040,0.359],[6811,0.338],[7839,0.284],[7903,0.27],[8481,0.263],[9381,0.222],[9766,0.226],[10409,0.222],[10987,0.229],[14007,0.126],[16000,0]];
const G_ES_2 = [[0,0],[64,0.215],[257,0.256],[643,0.311],[900,0.366],[1157,0.4],[1414,0.414],[1735,0.468],[2056,0.468],[2313,0.489],[2699,0.496],[3470,0.489],[3727,0.505],[4498,0.486],[5012,0.475],[5397,0.472],[6297,0.441],[6939,0.407],[7582,0.366],[8610,0.304],[9638,0.263],[10409,0.215],[12079,0.147],[13364,0.105],[14521,0.064],[16000,0]];
const G_ES_3 = [[0,0],[129,0.078],[643,0.119],[771,0.16],[964,0.188],[1285,0.297],[1671,0.352],[1928,0.373],[2185,0.441],[2442,0.475],[2570,0.485],[2956,0.48],[3341,0.496],[3727,0.482],[4498,0.448],[5397,0.421],[6297,0.352],[7325,0.297],[8224,0.263],[9381,0.222],[10023,0.201],[10794,0.174],[11822,0.126],[12336,0.133],[13107,0.105],[14521,0.058],[14752,0.078],[16000,0]];
const G_ES_4 = [[0,0],[257,0.092],[386,0.188],[578,0.284],[771,0.352],[964,0.4],[1285,0.421],[1542,0.437],[1928,0.448],[2313,0.441],[3084,0.421],[4241,0.373],[5012,0.325],[6297,0.242],[7582,0.16],[8867,0.105],[9638,0.085],[10409,0.067],[11437,0.047],[11501,0.089],[12336,0.064],[12979,0.058],[13621,0.067],[14007,0.067],[15292,0.03],[16000,0]];
const G_ES_5 = [[0,0],[103,0.407],[900,0.423],[1157,0.441],[1478,0.468],[1928,0.468],[2827,0.455],[3213,0.45],[3984,0.414],[4498,0.407],[5012,0.427],[5783,0.414],[6811,0.366],[8096,0.297],[9381,0.229],[10152,0.215],[11437,0.174],[11951,0.153],[12465,0.147],[12979,0.188],[14007,0.133],[16000,0]];
const G_HIT_1 = [0,617,771,874,1092,4433,4857,4909,5500,6040,6078,6746,7196,7260,7839,7877,8455,9419,9766,10434,10987,14007,16000];
const G_HIT_2 = [13,64,321,643,810,1092,1414,1735,2313,2866,3187,3470,3598,3727,4498,4562,4947,5012,5333,5371,6232,6528,6579,6939,7582,8031,8417,8674,9663,12015,12208,13236,15806,16000];
const G_HIT_3 = [0,64,231,643,707,989,1157,1221,1285,1478,1606,1863,1992,2120,2377,2506,3084,3213,4151,4498,4690,4947,5140,5333,5654,6746,7029,7671,8327,8545,8956,9355,10023,10062,10434,11886,11976,12362,13814,14521,14739,16000];
const G_HIT_4 = [0,193,257,386,540,771,835,1092,1542,1966,2956,3727,4241,6104,6579,6939,6978,7864,9188,9509,9830,10190,10473,10987,11501,12362,13004,13428,14007,15549,16000];
const G_HIT_5 = [39,103,1131,1516,2763,3187,4472,4793,4883,5012,5526,5744,6746,7389,7620,8674,9766,11180,12105,12696,13081,16000];
const G_ES_TICKS = [0,0.1,0.2,0.3,0.4,0.5,0.533];
const G_ES_LABELS = ['0.0','0.1','0.2','0.3','0.4','0.5',''];
const G_RK_TICKS = [-0.94,-0.5,0,0.5,1.0];

// ---------------- H: IDH3A-processes of cellular biology ----------------
const H_NAMES = ['CYTOSOLIC_DNA_SENSING_PATHWAY','BASAL_TRANSCRIPTION_FACTORS','RNA_POLYMERASE','SPLICEOSOME'];
const H_ES_1 = [[0,0],[194,0.092],[555,0.173],[645,0.23],[1161,0.246],[1290,0.335],[1742,0.352],[2000,0.384],[2516,0.416],[2903,0.44],[3419,0.44],[3483,0.522],[3935,0.525],[4709,0.497],[5225,0.489],[5483,0.473],[6515,0.425],[6773,0.416],[8063,0.335],[9353,0.254],[10643,0.206],[11417,0.206],[11933,0.182],[13739,0.1],[14384,0.1],[16000,0]];
const H_ES_2 = [[0,0],[258,0.076],[839,0.117],[1226,0.141],[1613,0.206],[2000,0.254],[2129,0.4],[2516,0.408],[2903,0.41],[3161,0.449],[3522,0.497],[4193,0.465],[4967,0.433],[5483,0.408],[6257,0.392],[7418,0.319],[8708,0.246],[10385,0.182],[11675,0.157],[11804,0.182],[13223,0.141],[14474,0.097],[16000,0]];
const H_ES_3 = [[0,0],[194,0.1],[452,0.157],[645,0.295],[1032,0.311],[1290,0.352],[1677,0.376],[1871,0.485],[2129,0.48],[2645,0.468],[2903,0.481],[3161,0.538],[3419,0.562],[3548,0.571],[3741,0.611],[3960,0.635],[4193,0.63],[4838,0.619],[5483,0.579],[6773,0.498],[8063,0.417],[9353,0.336],[10643,0.254],[11933,0.19],[14474,0.097],[16000,0]];
const H_ES_4 = [[0,0],[168,0.125],[323,0.149],[516,0.222],[645,0.295],[839,0.311],[1097,0.392],[1290,0.4],[1419,0.457],[1677,0.53],[1871,0.538],[2129,0.554],[2387,0.562],[2516,0.587],[2903,0.603],[3161,0.627],[3677,0.63],[4193,0.627],[4709,0.619],[5483,0.595],[6773,0.53],[8063,0.449],[9353,0.368],[9869,0.344],[10643,0.311],[11933,0.246],[12062,0.24],[13223,0.173],[14474,0.097],[16000,0]];
const H_HIT_1 = [39,168,323,555,606,658,1200,1251,1303,1767,1871,2129,2670,2903,3393,3444,3522,3573,3909,4709,4773,5276,5302,6489,6540,6592,6669,7134,7224,7353,7572,8101,8811,10772,11133,11481,13739,14474,16000];
const H_HIT_2 = [39,232,748,1251,1458,1651,1845,2103,2361,2864,3070,3135,3186,3238,3548,4928,5057,5715,5895,6063,6295,6682,6773,7134,9288,10385,10668,10939,11675,11778,12216,14487,16000];
const H_HIT_3 = [103,452,645,1097,1251,1677,1716,1845,2683,2799,2864,3096,3419,3586,3702,3935,3973,4360,4812,6863,8811,12216,14474,16000];
const H_HIT_4 = [26,90,168,219,284,361,426,516,581,658,735,813,903,993,1071,1251,1303,1355,1406,1458,1509,1561,1613,1664,1716,1793,1871,2000,2103,2232,2335,2425,2516,2619,2722,2799,2877,2941,3006,3083,3161,3483,3612,3741,3870,4064,4193,4322,4477,4644,4838,4992,5199,5263,5483,5741,5934,6063,6128,6540,6773,6927,7160,7418,7676,8063,8450,9095,9353,9765,9869,9959,10062,10385,10449,11520,11997,12062,14345,16000];
const H_ES_TICKS = [0,0.1,0.2,0.3,0.4,0.5,0.6,0.635];
const H_ES_LABELS = ['0.0','0.1','0.2','0.3','0.4','0.5','0.6',''];
const H_RK_TICKS = [-0.93,-0.5,0,0.5,0.99];

const RK_LABEL_FOR = v => (v === -0.5 ? '-0.5' : v === 0 ? '0.0' : v === 0.5 ? '0.5' : '');

// ---------------- styles & layout ----------------
const PAL = ['#E64B35','#4DBBD5','#00A087','#3C5488','#F39B7F','#8491B4','#91D1C2','#DC0000','#7E6148','#B09C85','#BC3C29','#0072B5','#E18727','#20854E','#7876B1'];
const X_MIN = -400, X_MAX = 16400;
const AXW = 62;
const INK = '#262626';

const GEOM = {
 A:{L:70,R:625,T:38,esB:197,rugB:276,botB:435,lx:0,ly:3,ty:14},
 B:{L:757,R:1311,T:33,esB:194,rugB:275,botB:435,lx:689,ly:3,ty:9},
 C:{L:73,R:627,T:593,esB:743,rugB:819,botB:971,lx:0,ly:554,ty:571},
 D:{L:759,R:1313,T:587,esB:741,rugB:818,botB:972,lx:689,ly:555,ty:565},
 E:{L:75,R:634,T:1131,esB:1285,rugB:1363,botB:1518,lx:0,ly:1096,ty:1111},
 F:{L:763,R:1313,T:1132,esB:1285,rugB:1362,botB:1516,lx:689,ly:1096,ty:1108},
 G:{L:78,R:634,T:1678,esB:1831,rugB:1907,botB:2060,lx:0,ly:1638,ty:1654},
 H:{L:766,R:1313,T:1677,esB:1829,rugB:1906,botB:2058,lx:689,ly:1638,ty:1654}
};

const PANELS = [
 {id:'A', title:'BAX-metabolism', names:A_NAMES, es:[A_ES_1,A_ES_2,A_ES_3], hits:[A_HIT_1,A_HIT_2,A_HIT_3], metric:BAX_METRIC, esR:[-0.103,0.588], esT:A_ES_TICKS, esL:A_ES_LABELS, rkR:[-1.25,1.18], rkT:A_RK_TICKS, base:0},
 {id:'B', title:'BAX-immunity', names:B_NAMES, es:[B_ES_1,B_ES_2,B_ES_3,B_ES_4,B_ES_5,B_ES_6,B_ES_7,B_ES_8,B_ES_9,B_ES_10], hits:[B_HIT_1,B_HIT_2,B_HIT_3,B_HIT_4,B_HIT_5,B_HIT_6,B_HIT_7,B_HIT_8,B_HIT_9,B_HIT_10], metric:BAX_METRIC, esR:[-0.119,0.806], esT:B_ES_TICKS, esL:B_ES_LABELS, rkR:[-1.286,1.214], rkT:B_RK_TICKS, base:0},
 {id:'C', title:'BAX-processes of cellular biology', names:C_NAMES, es:[C_ES_1,C_ES_2,C_ES_3,C_ES_4], hits:[C_HIT_1,C_HIT_2,C_HIT_3,C_HIT_4], metric:BAX_METRIC, esR:[-0.073,0.59], esT:C_ES_TICKS, esL:C_ES_LABELS, rkR:[-1.203,1.146], rkT:C_RK_TICKS, base:0},
 {id:'D', title:'MRPS6-metabolism', names:D_NAMES, es:[D_ES_1,D_ES_2], hits:[D_HIT_1,D_HIT_2], metric:MRPS6_METRIC, esR:[-0.042,0.619], esT:D_ES_TICKS, esL:D_ES_LABELS, rkR:[-1.095,1.247], rkT:D_RK_TICKS, base:0},
 {id:'E', title:'MRPS6-immunity', names:E_NAMES, es:[E_ES_1,E_ES_2,E_ES_3,E_ES_4,E_ES_5,E_ES_6,E_ES_7,E_ES_8,E_ES_9,E_ES_10,E_ES_11,E_ES_12,E_ES_13,E_ES_14,E_ES_15], hits:[E_HIT_1,E_HIT_2,E_HIT_3,E_HIT_4,E_HIT_5,E_HIT_6,E_HIT_7,E_HIT_8,E_HIT_9,E_HIT_10,E_HIT_11,E_HIT_12,E_HIT_13,E_HIT_14,E_HIT_15], metric:MRPS6_METRIC, esR:[-0.008,0.758], esT:E_ES_TICKS, esL:E_ES_LABELS, rkR:[-1.075,1.25], rkT:E_RK_TICKS, base:0.1},
 {id:'F', title:'MRPS6-processes of cellular biology', names:F_NAMES, es:[F_ES_1,F_ES_2,F_ES_3,F_ES_4,F_ES_5,F_ES_6], hits:[F_HIT_1,F_HIT_2,F_HIT_3,F_HIT_4,F_HIT_5,F_HIT_6], metric:MRPS6_METRIC, esR:[-0.069,0.634], esT:F_ES_TICKS, esL:F_ES_LABELS, rkR:[-1.136,1.298], rkT:F_RK_TICKS, base:0},
 {id:'G', title:'IDH3A-metabolism', names:G_NAMES, es:[G_ES_1,G_ES_2,G_ES_3,G_ES_4,G_ES_5], hits:[G_HIT_1,G_HIT_2,G_HIT_3,G_HIT_4,G_HIT_5], metric:IDH3A_METRIC, esR:[-0.048,0.579], esT:G_ES_TICKS, esL:G_ES_LABELS, rkR:[-1.115,1.177], rkT:G_RK_TICKS, base:0},
 {id:'H', title:'IDH3A-processes of cellular biology', names:H_NAMES, es:[H_ES_1,H_ES_2,H_ES_3,H_ES_4], hits:[H_HIT_1,H_HIT_2,H_HIT_3,H_HIT_4], metric:IDH3A_METRIC, esR:[-0.049,0.689], esT:H_ES_TICKS, esL:H_ES_LABELS, rkR:[-1.093,1.151], rkT:H_RK_TICKS, base:0}
];
const PANEL_COLORS = {A:PAL.slice(0,3), B:PAL.slice(0,10), C:PAL.slice(0,4), D:PAL.slice(0,2), E:PAL.slice(0,15), F:PAL.slice(0,6), G:PAL.slice(0,5), H:PAL.slice(0,4)};

// ---------------- Chart.js setup ----------------
Chart.defaults.font.family = '"Liberation Sans", Arial, Helvetica, sans-serif';
Chart.defaults.color = '#222';

const gseaPlugin = {
  id: 'gsea',
  beforeDatasetsDraw(chart, args, o) {
    if (o.base === undefined || o.base === null) return;
    const ctx = chart.ctx, a = chart.chartArea;
    const y = Math.round(chart.scales.y.getPixelForValue(o.base)) + 0.5;
    ctx.save();
    ctx.strokeStyle = '#c4c4c4'; ctx.lineWidth = 1; ctx.setLineDash([4, 3]);
    ctx.beginPath(); ctx.moveTo(a.left, y); ctx.lineTo(a.right, y); ctx.stroke();
    ctx.restore();
  },
  afterDatasetsDraw(chart, args, o) {
    if (!o.names) return;
    const ctx = chart.ctx, a = chart.chartArea;
    ctx.save();
    ctx.font = '14px "Liberation Sans", Arial, sans-serif';
    ctx.textBaseline = 'middle';
    ctx.textAlign = 'left';
    o.names.forEach((n, i) => {
      const y = a.top + 10.5 + i * 15.3;
      ctx.strokeStyle = o.colors[i]; ctx.lineWidth = 1.6;
      ctx.beginPath(); ctx.moveTo(a.left + 4, y); ctx.lineTo(a.left + 12, y); ctx.stroke();
      ctx.fillStyle = '#1e1e1e';
      ctx.fillText(n, a.left + 15, y);
    });
    ctx.restore();
  },
  afterDraw(chart, args, o) {
    const ctx = chart.ctx, a = chart.chartArea;
    ctx.save();
    ctx.strokeStyle = INK; ctx.lineWidth = 1.8; ctx.setLineDash([]);
    ctx.strokeRect(a.left, a.top, a.right - a.left, a.bottom - a.top);
    ctx.restore();
  }
};
Chart.register(gseaPlugin);

function xScale(show) {
  return {
    type: 'linear', min: X_MIN, max: X_MAX, display: show,
    afterBuildTicks(s) { s.ticks = X_TICKS.map(v => ({value: v})); },
    afterFit(s) { if (show) s.height = 46; s.paddingLeft = 0; s.paddingRight = 0; },
    grid: {drawOnChartArea: false, drawTicks: true, tickLength: 7, color: INK, lineWidth: 1.2},
    border: {display: false},
    ticks: {autoSkip: false, maxRotation: 0, padding: 2, font: {size: 12.5}, color: '#222', callback: (v, i) => X_LABELS[i]},
    title: {display: show, text: 'Rank in ordered dataset', font: {size: 14}, color: '#222', padding: {top: 0, bottom: 2}}
  };
}

function yScale(o) {
  return {
    type: 'linear', position: 'left', min: o.min, max: o.max, reverse: !!o.reverse,
    afterBuildTicks(s) { s.ticks = o.ticks.map(v => ({value: v})); },
    afterFit(s) { s.width = AXW; s.paddingTop = 0; s.paddingBottom = 0; },
    grid: o.grid || {drawOnChartArea: false, drawTicks: true, tickLength: 8, color: INK, lineWidth: 1.2},
    border: {display: false},
    ticks: {display: !!o.labels, autoSkip: false, padding: 4, font: {size: 12.5}, color: '#222',
            callback: (v, i) => (o.labels ? o.labels[i] : '')},
    title: {display: !!o.title, text: o.title || '', font: {size: 14}, color: '#222', padding: {top: 12.6, bottom: 0}}
  };
}

function addChart(px, py, w, h, datasets, scales, pad, gseaOpts) {
  const cv = document.createElement('canvas');
  cv.width = w; cv.height = h;
  cv.style.left = px + 'px'; cv.style.top = py + 'px';
  cv.style.width = w + 'px'; cv.style.height = h + 'px';
  document.body.appendChild(cv);
  return new Chart(cv.getContext('2d'), {
    type: 'line',
    data: {datasets},
    options: {
      responsive: false, animation: false, events: [],
      layout: {padding: pad},
      plugins: {legend: {display: false}, tooltip: {enabled: false}, gsea: gseaOpts},
      elements: {point: {radius: 0}},
      scales
    }
  });
}

function addText(cls, txt, x, y) {
  const d = document.createElement('div');
  d.className = cls; d.textContent = txt;
  d.style.left = x + 'px'; d.style.top = y + 'px';
  document.body.appendChild(d);
}

function buildPanel(P) {
  const g = GEOM[P.id];
  const cols = PANEL_COLORS[P.id];
  const left = g.L - AXW;
  const width = g.R - left + 3;
  addText('letter', P.id, g.lx, g.ly);
  addText('ptitle', P.title, g.L, g.ty);

  // enrichment score curves
  const esSets = P.es.map((c, i) => ({
    data: c.map(p => ({x: p[0], y: p[1]})),
    borderColor: cols[i], borderWidth: 1.5, pointRadius: 0, tension: 0, fill: false
  }));
  addChart(left, g.T - 3, width, g.esB - g.T + 6, esSets,
    {x: xScale(false), y: yScale({min: P.esR[0], max: P.esR[1], ticks: P.esT, labels: P.esL, title: 'Enrichment score'})},
    {top: 3, bottom: 3, left: 0, right: 3}, {base: P.base});

  // hit rug
  const n = P.hits.length;
  const rugSets = P.hits.map((hs, i) => {
    const pts = [];
    hs.forEach(h => { pts.push({x: h, y: i}, {x: h, y: i + 1}, {x: h, y: null}); });
    return {data: pts, borderColor: cols[i], borderWidth: 1.2, pointRadius: 0, spanGaps: false, fill: false};
  });
  const rowTicks = [];
  for (let k = 0; k <= n; k++) rowTicks.push(k);
  addChart(left, g.esB - 3, width, g.rugB - g.esB + 6, rugSets,
    {x: xScale(false), y: yScale({min: 0, max: n, reverse: true, ticks: rowTicks, labels: null, title: null,
      grid: {drawOnChartArea: true, drawTicks: false, color: '#1f1f1f', lineWidth: n > 8 ? 1.4 : 1.8}})},
    {top: 3, bottom: 3, left: 0, right: 3}, {});

  // ranked list metric
  const rk = [{
    data: RANKS.map((r, i) => ({x: r, y: P.metric[i]})),
    fill: 'origin', backgroundColor: '#c9c9c9', borderColor: '#c9c9c9', borderWidth: 0,
    pointRadius: 0, cubicInterpolationMode: 'monotone'
  }];
  addChart(left, g.rugB - 3, width, g.botB - g.rugB + 3 + 46, rk,
    {x: xScale(true), y: yScale({min: P.rkR[0], max: P.rkR[1], ticks: P.rkT, labels: P.rkT.map(RK_LABEL_FOR), title: 'Ranked list metric'})},
    {top: 3, bottom: 0, left: 0, right: 3}, {base: 0, names: P.names, colors: cols});
}

PANELS.forEach(buildPanel);
</script>
</body></html>
